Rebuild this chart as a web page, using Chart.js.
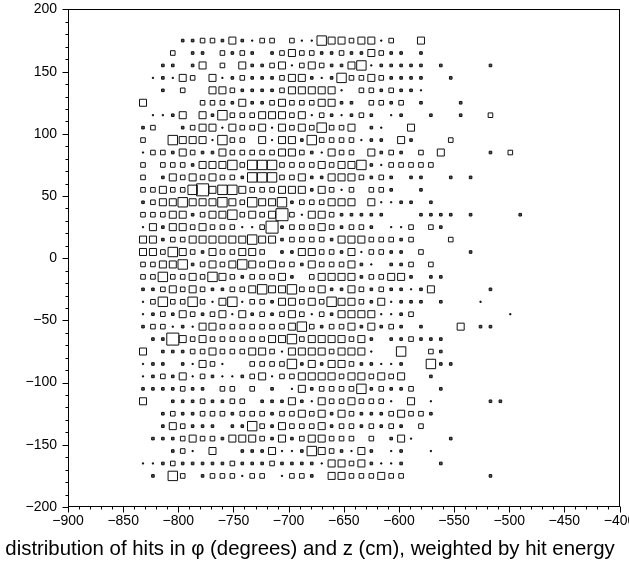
<!DOCTYPE html>
<html><head><meta charset="utf-8">
<script src="https://cdn.jsdelivr.net/npm/chart.js@4/dist/chart.umd.min.js"></script>
<style>html,body{margin:0;padding:0;background:#fff;}#wrap{width:629px;height:565px;}</style>
</head><body><div id="wrap"><canvas id="c" width="629" height="565"></canvas></div>
<script>
// phi bin centres (degrees)
const phiCenters = [-832,-823,-814,-805,-796,-787,-778,-769,-760,-751,-742,-733,-724,
  -715,-706,-697,-688,-679,-670,-661,-652,-643,-634,-625,-616,-607,
  -598,-589,-580,-571,-562,-553,-544,-535,-526,-517,-508,-499,-490];
// z bin centres (cm)
const zCenters = [175,165,155,145,135,125,115,105,95,85,75,65,55,45,35,25,15,5,
  -5,-15,-25,-35,-45,-55,-65,-75,-85,-95,-105,-115,-125,-135,-145,-155,-165,-175];
// energy weight level per cell (0 = empty ... 6 = largest), one string per z row, one digit per phi bin
const energyRows = [
  "0000223324213"+"3031154434413"+"0040000000000",
  "0003022032320"+"2343322322432"+"2020000000000",
  "0022024030422"+"3413432245122"+"2220200002000",
  "0121430412322"+"2344212533432"+"2220020000000",
  "0020300443222"+"2344444103323"+"2210000000000",
  "4000003332422"+"3433344220332"+"3020002000000",
  "0112404253334"+"4434132123201"+"2002002003000",
  "2300234414334"+"1434353340210"+"0400000000000",
  "3005444153304"+"1442533331220"+"4200030000000",
  "1332432243333"+"3443214330423"+"2030400002030",
  "3033324445355"+"5333343445213"+"3333000000000",
  "3024343433255"+"5334224443232"+"0220020200000",
  "3343356455433"+"3444243130332"+"0020000000000",
  "2344544454354"+"4523334440411"+"2202000000000",
  "3334423445343"+"4631443222220"+"0022220200002",
  "1424434333113"+"6233343233201"+"1303200000000",
  "4423344444454"+"4233332444333"+"2300030000000",
  "4435432433443"+"0224433241332"+"2030000200000",
  "3344523434543"+"4332433342102"+"2303000000000",
  "3353343543233"+"3420344442334"+"4202200000000",
  "2234343223345"+"4453342243232"+"2124000002000",
  "1353353145133"+"2443435443241"+"2220200010000",
  "1232432341423"+"2343132444411"+"2300000000010",
  "2331214433333"+"3345323342423"+"2020004022000",
  "0226434333333"+"4453444434202"+"2322200000000",
  "4022233433344"+"3144443444100"+"5003200000000",
  "1220214310033"+"3352424432211"+"2005220000000",
  "1232413211234"+"1334444344343"+"4002000000000",
  "2222322033030"+"2014233335232"+"2300200000000",
  "4002223223302"+"2242143343331"+"0401000002200",
  "0023223332333"+"2334342432223"+"4332000000000",
  "0024322202253"+"2433342332323"+"2030000000000",
  "0222343324443"+"2423443330302"+"4100020000000",
  "0002310400222"+"4112543214201"+"2001000000000",
  "1123222223222"+"3222214434211"+"2000200000000",
  "0205302333133"+"0133204433343"+"3000000002000"
];
const xTickValues = [-900,-850,-800,-750,-700,-650,-600,-550,-500,-450,-400];
const yTickValues = [-200,-150,-100,-50,0,50,100,150,200];
const captionText = "distribution of hits in \u03c6 (degrees) and z (cm), weighted by hit energy";

// ---- build points ----
const cells = [];
energyRows.forEach((row, j) => {
  for (let k = 0; k < row.length; k++) {
    const w = +row[k];
    if (w > 0) cells.push({x: phiCenters[k], y: zCenters[j], w});
  }
});
const boxSide = [0, 1.2, 2.6, 4.6, 7, 9.4, 12];
const boxFill = ['rgba(0,0,0,0)', '#111', '#555', 'rgba(0,0,0,0)', 'rgba(0,0,0,0)', 'rgba(0,0,0,0)', 'rgba(0,0,0,0)'];
const fmt = v => String(v).replace('-', '\u2212');
const CAPTION_SIZE = 20.4;
const CAPTION_BOX = CAPTION_SIZE * 1.2 + 3;

const frameTicks = {
  id: 'frameTicks',
  afterDraw(chart) {
    const {ctx, chartArea: a, scales: {x, y}} = chart;
    ctx.save();
    ctx.strokeStyle = '#000';
    ctx.lineWidth = 1;
    const L = Math.round(a.left) + 0.5, R = Math.round(a.right) - 0.5;
    const T = Math.round(a.top) + 0.5, B = Math.round(a.bottom) - 0.5;
    ctx.strokeRect(L, T, R - L, B - T);
    ctx.beginPath();
    for (let v = x.min; v <= x.max + 1e-6; v += 10) {
      const px = Math.round(x.getPixelForValue(v)) + 0.5;
      const len = (Math.round(v) % 50 === 0) ? 6 : 3;
      ctx.moveTo(px, B); ctx.lineTo(px, B + len);
    }
    for (let v = y.min; v <= y.max + 1e-6; v += 10) {
      const py = Math.round(y.getPixelForValue(v)) + 0.5;
      const len = (Math.round(v) % 50 === 0) ? 6 : 3;
      ctx.moveTo(L, py); ctx.lineTo(L - len, py);
    }
    ctx.stroke();
    ctx.restore();
  }
};

new Chart(document.getElementById('c'), {
  type: 'scatter',
  data: {
    datasets: [{
      data: cells,
      pointStyle: 'rect',
      pointRadius: c => boxSide[c.raw.w] / Math.SQRT2,
      pointBorderWidth: 1,
      borderColor: '#111',
      backgroundColor: 'rgba(0,0,0,0)',
      pointBackgroundColor: c => boxFill[c.raw.w]
    }]
  },
  options: {
    responsive: false,
    animation: false,
    devicePixelRatio: 1,
    events: [],
    layout: {padding: {left: 0, right: 9, top: 8, bottom: 0}},
    plugins: {
      legend: {display: false},
      tooltip: {enabled: false},
      title: {display: true, position: 'bottom', text: captionText, color: '#000',
        font: {family: 'Liberation Sans, Arial, sans-serif', size: CAPTION_SIZE, weight: 'normal', lineHeight: 1.2},
        padding: {top: 0, bottom: 3}}
    },
    scales: {
      x: {
        type: 'linear', min: -900, max: -400,
        afterBuildTicks: s => { s.ticks = xTickValues.map(v => ({value: v})); },
        afterFit: s => { s.height = 565 - 507 - CAPTION_BOX; s.paddingLeft = 0; s.paddingRight = 0; },
        grid: {display: false, drawTicks: false},
        border: {display: false},
        ticks: {color: '#000', padding: 6, maxRotation: 0, autoSkip: false, callback: fmt,
          font: {family: 'Liberation Sans, Arial, sans-serif', size: 14}}
      },
      y: {
        type: 'linear', min: -200, max: 200,
        afterBuildTicks: s => { s.ticks = yTickValues.map(v => ({value: v})); },
        afterFit: s => { s.width = 68; s.paddingTop = 0; s.paddingBottom = 0; },
        grid: {display: false, drawTicks: false},
        border: {display: false},
        ticks: {color: '#000', padding: 11, autoSkip: false, callback: fmt,
          font: {family: 'Liberation Sans, Arial, sans-serif', size: 14}}
      }
    }
  },
  plugins: [frameTicks]
});
</script></body></html>
